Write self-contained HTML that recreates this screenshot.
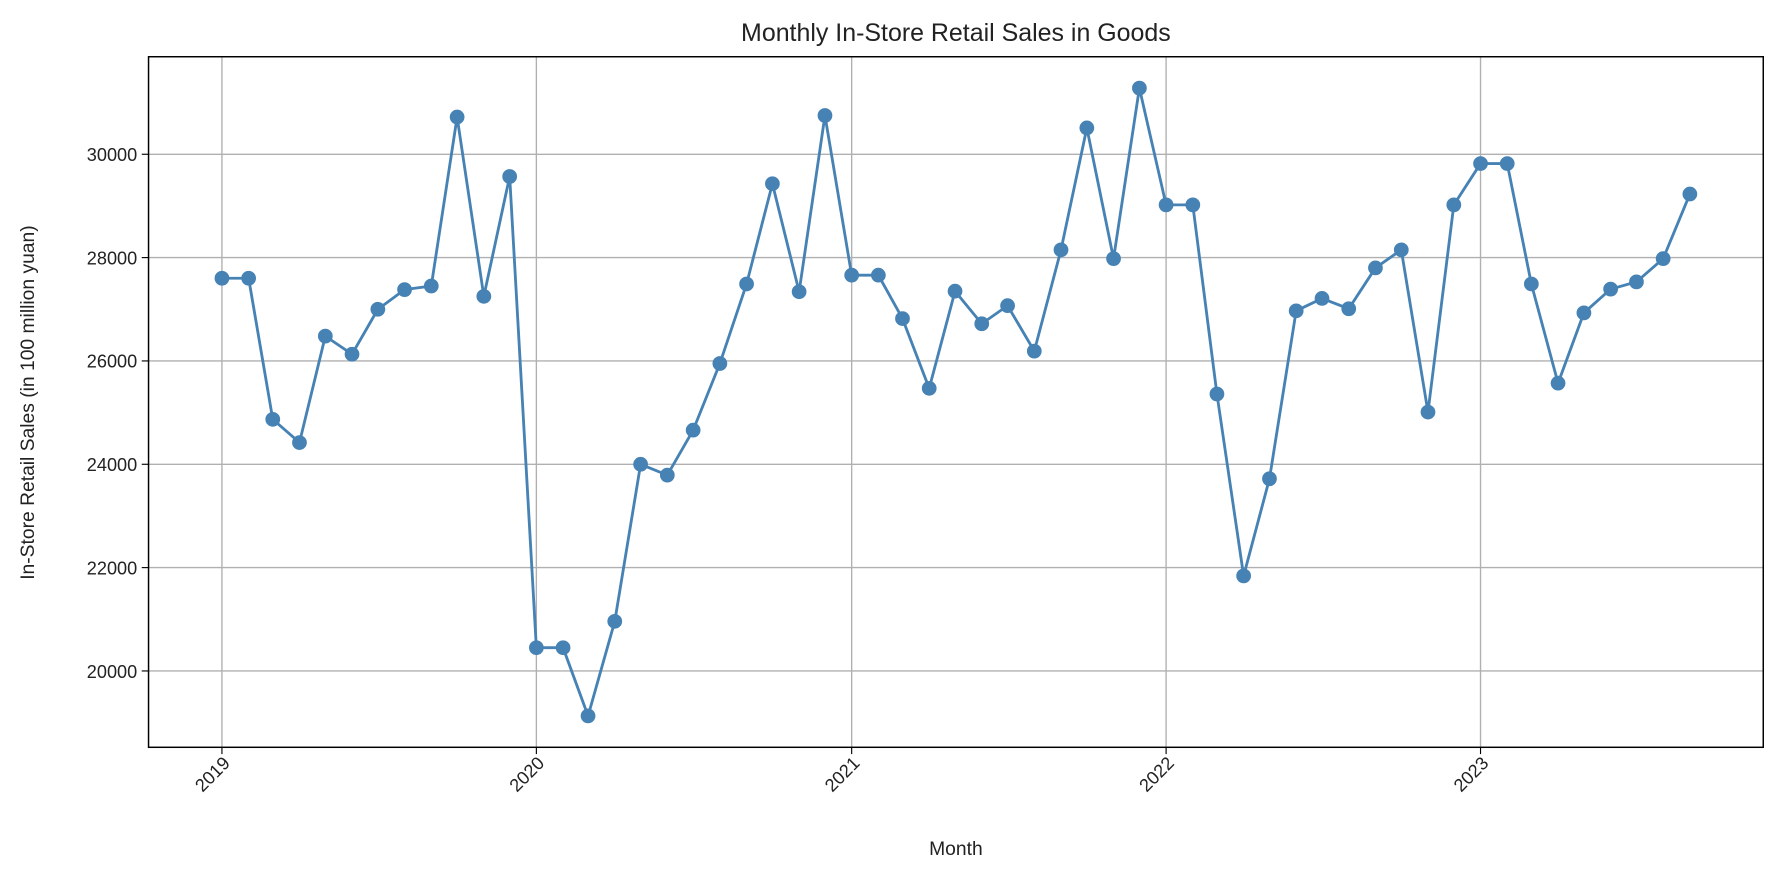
<!DOCTYPE html>
<html><head><meta charset="utf-8"><style>
body{margin:0;background:#fff;}
svg{display:block;}
svg text{font-family:"Liberation Sans","DejaVu Sans",sans-serif;fill:#222;}
</style></head><body>
<svg width="1778" height="880" viewBox="0 0 1568 776" id="c">
<text x="843" y="36" font-size="22" text-anchor="middle">Monthly In-Store Retail Sales in Goods</text>
<text x="843" y="754" font-size="17" text-anchor="middle">Month</text>
<text transform="translate(30,355) rotate(-90)" font-size="17" text-anchor="middle">In-Store Retail Sales (in 100 million yuan)</text>
<g id="grid"></g><g id="ticks"></g><g id="series"></g>
<rect x="131" y="50" width="1424" height="609" fill="none" stroke="#000" stroke-width="1.3"/>
</svg>
<script>
const values=[27600,27600,24870,24420,26480,26130,27000,27380,27450,30720,27250,29570,
20450,20450,19130,20960,24000,23790,24660,25950,27490,29430,27340,30750,
27660,27660,26820,25470,27350,26720,27070,26190,28150,30510,27980,31280,
29020,29020,25360,21840,23720,26970,27210,27010,27800,28150,25010,29020,
29820,29820,27490,25570,26930,27390,27530,27980,29230];
const yTicks=[20000,22000,24000,26000,28000,30000];
const xTicks=[2019,2020,2021,2022,2023];
const NS="http://www.w3.org/2000/svg";
const d0=Date.UTC(2019,0,1);
function dayOf(y,m){return (Date.UTC(y,m,1)-d0)/864e5;}
const lastDay=dayOf(2019,values.length-1);
const xMinD=-lastDay*0.05, xMaxD=lastDay*1.05;
const X=d=>131+(d-xMinD)/(xMaxD-xMinD)*1424;
const vmin=Math.min(...values), vmax=Math.max(...values), pad=(vmax-vmin)*0.05;
const Y=v=>659-(v-(vmin-pad))/((vmax+pad)-(vmin-pad))*609;
function el(t,a,p){const e=document.createElementNS(NS,t);for(const k in a)e.setAttribute(k,a[k]);document.getElementById(p).appendChild(e);return e;}
yTicks.forEach(v=>{
 const g=el('line',{x1:131,x2:1555,y1:Y(v),y2:Y(v),stroke:'#b0b0b0','stroke-width':1.2},'grid');
 
 
 el('line',{x1:125,x2:131,y1:Y(v),y2:Y(v),stroke:'#000'},'ticks');
 const t=el('text',{x:121,y:Y(v)+6,'font-size':16,'text-anchor':'end'},'ticks');t.textContent=v;
 
 
});
xTicks.forEach(yr=>{
 const x=X(dayOf(yr,0));
 const g=el('line',{x1:x,x2:x,y1:50,y2:659,stroke:'#b0b0b0','stroke-width':1.2},'grid');
 
 
 el('line',{x1:x,x2:x,y1:659,y2:665,stroke:'#000'},'ticks');
 const t=el('text',{transform:`translate(${x+8},${674}) rotate(-45)`,'font-size':16,'text-anchor':'end'},'ticks');t.textContent=yr;
 
 
});
const pts=values.map((v,i)=>[X(dayOf(2019,i)),Y(v)]);
const line=el('polyline',{points:pts.map(p=>p.join(',')).join(' '),fill:'none',stroke:'#4682b4','stroke-width':2.5},'series');


pts.forEach(p=>{
 const c=el('circle',{cx:p[0],cy:p[1],r:6.5,fill:'#4682b4'},'series');
 
 
});
</script>
</body></html>
